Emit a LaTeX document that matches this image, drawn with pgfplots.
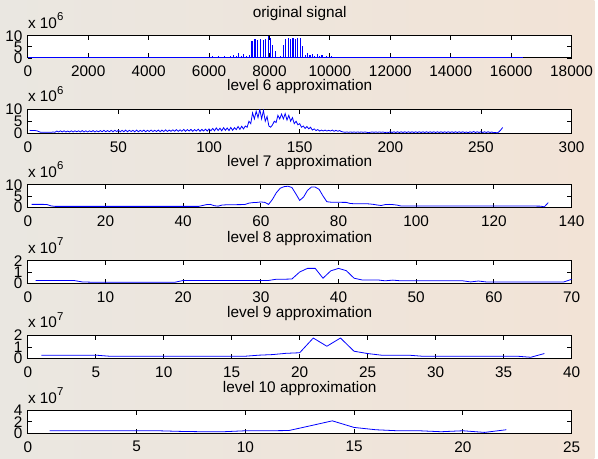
\documentclass[border=0pt]{standalone}
\usepackage{fontspec}
\setmainfont{Liberation Sans}
\usepackage{pgfplots}
\pgfplotsset{compat=1.18}
\definecolor{bgleft}{RGB}{234,231,225}
\definecolor{bgright}{RGB}{242,227,214}
\definecolor{sig}{RGB}{0,0,255}
\pgfplotsset{
  panel/.style={
    scale only axis, width=547bp,
    anchor=south west,
    axis background/.style={fill=white},
    axis line style={line width=0.9bp},
    tick align=inside, tick pos=both,
    major tick length=4.5bp,
    every tick/.style={black, line width=0.8bp},
    scaled ticks=false,
    /pgf/number format/.cd, assume math mode=true, 1000 sep={}, fixed,
    /pgfplots/.cd,
    xticklabel style={yshift=-3bp},
    title style={at={(0.5,1)}, anchor=base, yshift=12.5bp, inner sep=0pt},
  },
  sigline/.style={sig, line width=0.8bp, no marks, sharp plot},
}
\newcommand{\expo}[1]{%
  \node[anchor=base west, inner sep=0pt, yshift=7.5bp] at (0,1)
    {x 10\raisebox{7.5bp}{\fontsize{11.5}{12}\selectfont #1}};}
\begin{document}
\fontsize{15.5}{18}\selectfont
\begin{tikzpicture}
\shade[left color=bgleft, right color=bgright] (0,0) rectangle (598bp,461bp);

% ---------------- original signal ----------------
\begin{axis}[panel, at={(28bp,402.7bp)}, height=22.3bp,
  xmin=0, xmax=18000, ymin=0, ymax=10,
  xtick={0,2000,...,18000}, ytick={0,5,10},
  title={original signal},
  extra description/.code={\expo{6}}]
\addplot[sigline, line width=1.3bp] coordinates {(0,0.15) (16384,0.15)};
\addplot[sig, line width=1.1bp, ycomb, no marks] coordinates {
 (5400,0.5) (5500,0.3) (5600,0.6) (5700,0.4) (5800,0.5) (5900,0.3)
 (6000,0.6) (6100,0.9) (6200,0.5) (6300,0.7) (6400,0.5) (6500,0.8)
 (6600,0.6) (6700,0.9) (6800,1.3) (6900,0.8) (6980,2.2) (7080,1.0)
 (7150,1.8) (7250,0.8) (7330,1.2)
 (7420,7.8) (7520,8.5) (7610,8.3) (7700,8.7) (7800,8.2) (7880,8.6)
 (7960,9.8) (8040,8.9) (8110,6.0) (8200,3.0) (8290,0.6) (8370,1.0)
 (8460,6.0) (8540,8.5) (8620,8.8) (8700,8.5) (8780,8.8) (8860,8.6)
 (8940,9.0) (9020,8.8) (9100,5.5) (9180,1.5) (9260,2.2) (9340,1.2)
 (9420,1.8) (9500,1.0) (9580,1.6) (9660,0.8) (9740,1.2) (9820,0.6)
 (9900,0.9) (9980,0.5) (10060,0.7) (10150,0.4) (10250,0.6) (10350,0.4)
 (10450,0.5) (10600,0.4) (10750,0.5) (10900,0.4) (11050,0.4)};
\end{axis}

% ---------------- level 6 ----------------
\begin{axis}[panel, at={(28bp,327bp)}, height=24bp,
  xmin=0, xmax=300, ymin=0, ymax=10,
  xtick={0,50,...,300}, ytick={0,5,10},
  title={level 6 approximation},
  extra description/.code={\expo{6}}]
\addplot[sigline] coordinates {
 (1,1.2)(2,1.1)(3,1.1)(4,1.1)(5,1.0)(6,0.7)(7,0.4)(8,0.4)(9,0.4)(10,0.4)
 (11,0.4)(12,0.4)(13,0.4)(14,0.5)(15,0.4)(16,0.9)(17,0.5)(18,1.0)(19,0.5)(20,1.0)
 (21,0.5)(22,0.9)(23,0.5)(24,1.0)(25,0.5)(26,1.0)(27,0.6)(28,1.0)(29,0.5)(30,1.1)
 (31,0.5)(32,1.0)(33,0.5)(34,1.0)(35,0.6)(36,1.1)(37,0.5)(38,1.0)(39,0.6)(40,1.1)
 (41,0.6)(42,1.2)(43,0.6)(44,1.1)(45,0.6)(46,1.2)(47,0.6)(48,1.2)(49,0.7)(50,1.2)
 (51,0.6)(52,1.2)(53,0.6)(54,1.3)(55,0.6)(56,1.2)(57,0.7)(58,1.2)(59,0.6)(60,1.3)
 (61,0.6)(62,1.2)(63,0.7)(64,1.3)(65,0.6)(66,1.2)(67,0.7)(68,1.3)(69,0.7)(70,1.2)
 (71,0.7)(72,1.3)(73,0.6)(74,1.3)(75,0.7)(76,1.4)(77,0.7)(78,1.3)(79,0.8)(80,1.4)
 (81,0.8)(82,1.5)(83,0.8)(84,1.4)(85,0.8)(86,1.6)(87,0.8)(88,1.5)(89,0.9)(90,1.6)
 (91,0.8)(92,1.5)(93,0.9)(94,1.7)(95,0.8)(96,1.6)(97,0.9)(98,1.7)(99,0.9)(100,1.8)
 (101,1.0)(102,2.0)(103,1.0)(104,2.2)(105,1.1)(106,2.1)(107,1.0)(108,2.3)(109,1.2)(110,2.2)
 (111,1.1)(112,2.4)(113,1.2)(114,2.3)(115,1.5)(116,2.8)(117,1.6)(118,2.9)(119,1.8)(120,3.0)
 (121,2.5)(122,5.0)(123,4.0)(124,8.5)(125,6.0)(126,9.2)(127,6.5)(128,10.0)(129,6.0)(130,9.5)
 (131,5.0)(132,7.0)(133,3.0)(134,2.5)(135,3.5)(136,5.0)(137,4.5)(138,7.5)(139,6.0)(140,8.0)
 (141,6.0)(142,8.2)(143,5.5)(144,7.5)(145,5.0)(146,6.5)(147,4.0)(148,5.0)(149,3.5)(150,4.0)
 (151,2.5)(152,3.0)(153,2.0)(154,2.8)(155,1.8)(156,2.5)(157,1.3)(158,1.8)(159,1.1)(160,1.5)
 (161,0.9)(162,1.3)(163,0.9)(164,1.3)(165,0.9)(166,1.2)(167,0.9)(168,1.3)(169,0.8)(170,1.2)
 (171,0.8)(172,1.1)(173,0.7)(174,0.5)(175,0.4)(176,0.5)(177,0.4)(178,0.5)(179,0.4)(180,0.5)
 (181,0.4)(182,0.5)(183,0.4)(184,0.5)(185,0.4)(186,0.5)(187,0.4)(188,0.2)(189,0.4)(190,0.5)
 (191,0.4)(192,0.5)(193,0.4)(194,0.5)(195,0.4)(196,0.5)(197,0.3)(198,0.4)(199,0.3)(200,0.6)
 (201,0.3)(202,0.6)(203,0.3)(204,0.6)(205,0.3)(206,0.6)(207,0.3)(208,0.6)(209,0.3)(210,0.6)
 (211,0.3)(212,0.6)(213,0.3)(214,0.6)(215,0.3)(216,0.6)(217,0.3)(218,0.6)(219,0.3)(220,0.6)
 (221,0.3)(222,0.6)(223,0.3)(224,0.6)(225,0.3)(226,0.6)(227,0.3)(228,0.6)(229,0.3)(230,0.6)
 (231,0.3)(232,0.6)(233,0.3)(234,0.6)(235,0.3)(236,0.6)(237,0.3)(238,0.6)(239,0.3)(240,0.6)
 (241,0.3)(242,0.5)(243,0.2)(244,0.6)(245,0.3)(246,0.7)(247,0.3)(248,0.6)(249,0.3)(250,0.6)
 (251,0.3)(252,0.6)(253,0.3)(254,0.6)(255,0.3)(256,0.5)(257,0.2)(258,0.3)(259,0.1)(260,0.6)
 (261,1.4)(262,2.4)};
\end{axis}

% ---------------- level 7 ----------------
\begin{axis}[panel, at={(28bp,252.7bp)}, height=22.3bp,
  xmin=0, xmax=140, ymin=0, ymax=10,
  xtick={0,20,...,140}, ytick={0,5,10},
  title={level 7 approximation},
  extra description/.code={\expo{6}}]
\addplot[sigline] coordinates {
 (1,1.2)(2,1.2)(3,1.2)(4,1.2)(5,1.1)(6,0.5)(7,0.3)(10,0.3)(20,0.3)(30,0.3)
 (40,0.3)(44,0.3)(45,0.7)(46,1.1)(47,1.2)(48,0.6)(49,0.4)(50,0.9)(51,1.0)(52,1.0)
 (53,1.0)(54,1.1)(55,1.1)(56,1.2)(57,1.8)(58,2.0)(59,2.1)(60,2.3)(61,2.1)(62,1.2)
 (63,3.5)(64,6.5)(65,8.5)(66,9.2)(67,9.4)(68,8.8)(69,6.0)(70,3.0)(71,4.5)(72,7.5)
 (73,9.0)(74,9.0)(75,8.0)(76,5.0)(77,2.4)(78,2.2)(79,2.2)(80,2.2)(81,2.1)(82,2.1)
 (83,1.6)(84,1.5)(85,1.5)(86,1.5)(87,1.5)(88,1.4)(89,1.2)(90,0.9)(91,0.7)(92,1.1)
 (93,1.2)(94,1.1)(95,0.9)(96,0.5)(97,0.45)(100,0.45)(110,0.45)(120,0.45)(130,0.45)(132,0.4)
 (133,0.1)(134,2.0)};
\end{axis}

% ---------------- level 8 ----------------
\begin{axis}[panel, at={(28bp,176bp)}, height=22.7bp,
  xmin=0, xmax=70, ymin=0, ymax=2,
  xtick={0,10,...,70}, ytick={0,1,2},
  title={level 8 approximation},
  extra description/.code={\expo{7}}]
\addplot[sigline] coordinates {
 (1,0.24)(2,0.24)(3,0.24)(4,0.24)(5,0.24)(6,0.24)(7,0.12)(8,0.1)(10,0.1)(15,0.1)
 (19,0.1)(20,0.25)(25,0.25)(31,0.25)(32,0.36)(33,0.36)(34,0.38)(35,1.0)(36,1.32)(37,1.32)
 (38,0.45)(39,1.1)(40,1.32)(41,1.12)(42,0.45)(43,0.3)(44,0.3)(45,0.3)(46,0.22)(47,0.28)
 (48,0.22)(50,0.22)(56,0.22)(57,0.12)(58,0.2)(59,0.12)(60,0.12)(65,0.12)(69,0.12)(70,0.35)};
\end{axis}

% ---------------- level 9 ----------------
\begin{axis}[panel, at={(28bp,100.3bp)}, height=23.3bp,
  xmin=0, xmax=40, ymin=0, ymax=2,
  xtick={0,5,...,40}, ytick={0,1,2},
  title={level 9 approximation},
  extra description/.code={\expo{7}}]
\addplot[sigline] coordinates {
 (1,0.29)(2,0.29)(3,0.29)(4,0.29)(5,0.29)(6,0.2)(8,0.2)(10,0.2)(12,0.2)(14,0.2)
 (16,0.2)(17,0.29)(18,0.34)(19,0.45)(20,0.5)(21,1.77)(22,1.06)(23,1.77)(24,0.63)(25,0.43)
 (26,0.29)(27,0.29)(28,0.29)(29,0.2)(30,0.2)(32,0.2)(34,0.2)(36,0.2)(37,0.11)(38,0.43)};
\end{axis}

% ---------------- level 10 ----------------
\begin{axis}[panel, at={(28bp,25.3bp)}, height=22.7bp,
  xmin=0, xmax=25, ymin=0, ymax=4,
  xtick={0,5,...,25}, ytick={0,2,4},
  title={level 10 approximation},
  extra description/.code={\expo{7}}]
\addplot[sigline] coordinates {
 (1,0.41)(2,0.41)(3,0.41)(4,0.41)(5,0.41)(6,0.41)(7,0.3)(8,0.24)(9,0.24)(10,0.41)
 (11,0.41)(12,0.45)(13,1.3)(14,2.17)(15,1.0)(16,0.59)(17,0.41)(18,0.41)(19,0.24)(20,0.41)
 (21,0.12)(22,0.59)};
\end{axis}
\end{tikzpicture}
\end{document}
